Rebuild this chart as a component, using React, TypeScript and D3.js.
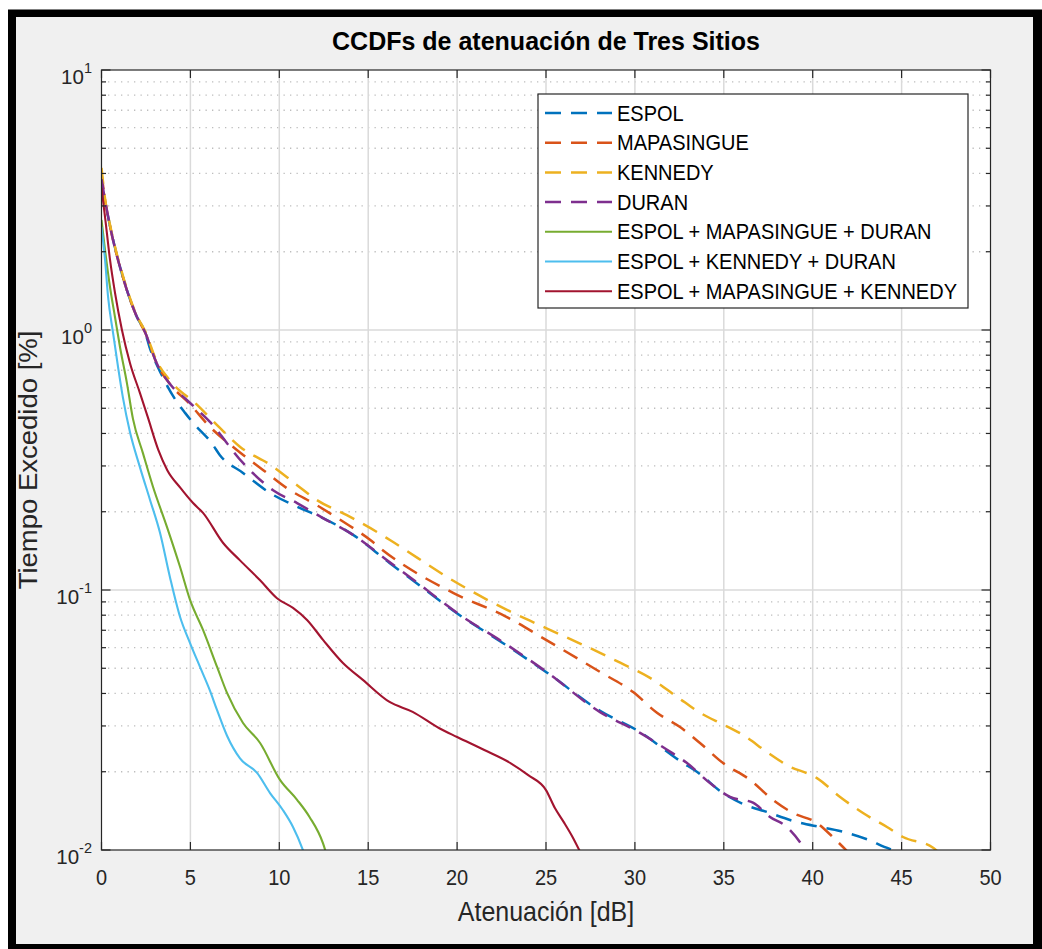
import React from 'react';
import * as d3 from 'd3';

const W = 1042;
const H = 949;
const PL = 101.5, PR = 990.5, PT = 70, PB = 850;

const xTicks = [0, 5, 10, 15, 20, 25, 30, 35, 40, 45, 50];
const yExponents = [-2, -1, 0, 1];

// ESPOL
const espolX = [0, 0.2, 0.5, 1.2, 2.0, 2.45, 2.7, 3.3, 4.1, 4.7, 5.16, 6.2, 6.66, 7.96, 9.48, 11.0, 12.46, 14.15, 16.2, 17.5, 20.3, 22.5, 25, 28.04, 30.29, 32.54, 33.66, 34.79, 36.08, 37.43, 38.89, 40.41, 41.53, 43.05, 44.34, 45.02];
const espolY = [3.5, 3.1, 2.47, 1.6, 1.12, 0.98, 0.86, 0.69, 0.547, 0.48, 0.439, 0.367, 0.33, 0.282, 0.236, 0.209, 0.189, 0.163, 0.127, 0.109, 0.0787, 0.063, 0.0484, 0.0343, 0.0284, 0.022, 0.0196, 0.01686, 0.01503, 0.014, 0.01294, 0.01226, 0.01183, 0.011, 0.0101, 0.0099];

// MAPASINGUE
const mapasingueX = [0, 0.2, 0.5, 1.2, 2.0, 2.45, 3.1, 3.85, 4.96, 6.1, 7.63, 9.1, 10.4, 12.1, 13.6, 15.1, 15.8, 19.8, 22.8, 25, 28.04, 29.9, 31.24, 32.54, 33.66, 34.96, 36.48, 37.77, 38.9, 40.24, 41.14, 41.93];
const mapasingueY = [4.0, 3.16, 2.47, 1.6, 1.12, 0.98, 0.746, 0.62, 0.52, 0.424, 0.345, 0.289, 0.247, 0.212, 0.183, 0.156, 0.1426, 0.0973, 0.0787, 0.0643, 0.0484, 0.0405, 0.0337, 0.0297, 0.0258, 0.0216, 0.0186, 0.01557, 0.01387, 0.0127, 0.0112, 0.0099];

// KENNEDY
const kennedyX = [0, 0.2, 0.5, 1.2, 2.0, 2.45, 3.1, 3.85, 5.38, 6.66, 7.8, 9.5, 11.0, 12.1, 13.8, 15.5, 16.2, 20, 23.15, 25, 28.04, 29.2, 30.85, 32.4, 33.67, 35.0, 36.08, 37.43, 38.55, 40.24, 41.54, 42.83, 44.18, 45.08, 46.77, 47.0];
const kennedyY = [4.2, 3.2, 2.5, 1.62, 1.13, 0.99, 0.76, 0.64, 0.515, 0.42, 0.355, 0.303, 0.253, 0.222, 0.194, 0.167, 0.156, 0.1064, 0.0816, 0.0714, 0.0573, 0.0524, 0.0459, 0.0387, 0.0337, 0.0303, 0.0277, 0.0238, 0.0212, 0.0189, 0.016, 0.01387, 0.01226, 0.01122, 0.0102, 0.0099];

// DURAN
const duranX = [0, 0.2, 0.5, 1.2, 2.0, 2.45, 3.1, 3.85, 4.8, 6.1, 7.96, 9.65, 11.0, 12.46, 14.15, 16.2, 17.5, 20.3, 22.5, 25, 28.04, 30.29, 31.81, 32.93, 34.22, 35.35, 36.64, 37.6, 38.55, 39.45, 39.6];
const duranY = [3.8, 3.16, 2.47, 1.6, 1.12, 0.98, 0.746, 0.62, 0.538, 0.443, 0.308, 0.242, 0.216, 0.189, 0.163, 0.128, 0.11, 0.079, 0.0635, 0.0486, 0.0339, 0.0282, 0.0243, 0.0216, 0.0181, 0.016, 0.0152, 0.0134, 0.01226, 0.0103, 0.0099];

// ESPOL + MAPASINGUE + DURAN
const emdX = [0, 0.2, 0.48, 0.76, 1.04, 1.43, 1.77, 2.33, 2.9, 3.68, 4.42, 4.98, 5.71, 6.5, 7.06, 7.96, 8.92, 10.04, 11.0, 11.7, 12.46, 12.6];
const emdY = [2.65, 2.03, 1.46, 1.12, 0.86, 0.625, 0.455, 0.336, 0.249, 0.175, 0.1226, 0.0916, 0.0702, 0.0506, 0.0402, 0.0308, 0.0258, 0.0186, 0.0156, 0.0134, 0.0106, 0.0099];

// ESPOL + KENNEDY + DURAN
const ekdX = [0, 0.2, 0.37, 0.65, 0.93, 1.2, 1.6, 2.16, 2.73, 3.29, 3.85, 4.42, 4.98, 5.54, 6.1, 6.5, 7.06, 7.79, 8.75, 9.48, 10.2, 10.77, 11.28, 11.35];
const ekdY = [2.49, 1.86, 1.34, 0.974, 0.721, 0.552, 0.405, 0.297, 0.222, 0.166, 0.112, 0.0787, 0.0625, 0.0506, 0.041, 0.0345, 0.0275, 0.0225, 0.0198, 0.01656, 0.01425, 0.01226, 0.0102, 0.0099];

// ESPOL + MAPASINGUE + KENNEDY
const emkX = [0, 0.2, 0.48, 0.76, 1.15, 1.6, 2.16, 2.6, 3.2, 3.7, 4.44, 5.15, 5.71, 6.83, 7.79, 8.92, 9.87, 10.77, 11.56, 12.46, 13.58, 14.7, 16.2, 17.5, 19, 20, 21.5, 23, 24, 25, 25.5, 26, 26.5, 26.9];
const emkY = [3.52, 2.72, 1.86, 1.39, 1.0, 0.747, 0.573, 0.463, 0.345, 0.289, 0.247, 0.216, 0.198, 0.152, 0.13, 0.109, 0.093, 0.0853, 0.0767, 0.0643, 0.0524, 0.0451, 0.0371, 0.034, 0.0294, 0.0272, 0.0243, 0.0216, 0.0194, 0.017, 0.0145, 0.0128, 0.0112, 0.0099];

const seriesNames = ['ESPOL', 'MAPASINGUE', 'KENNEDY', 'DURAN', 'ESPOL + MAPASINGUE + DURAN', 'ESPOL + KENNEDY + DURAN', 'ESPOL + MAPASINGUE + KENNEDY'];
const seriesColors = ['#0072BD', '#D95319', '#EDB120', '#7E2F8E', '#77AC30', '#4DBEEE', '#A2142F'];
const seriesDashed = [true, true, true, true, false, false, false];
const seriesXs = [espolX, mapasingueX, kennedyX, duranX, emdX, ekdX, emkX];
const seriesYs = [espolY, mapasingueY, kennedyY, duranY, emdY, ekdY, emkY];

const FONT = 'Arial, "Liberation Sans", Helvetica, sans-serif';
const AXC = '#262626';

export default function App() {
  const x = d3.scaleLinear().domain([0, 50]).range([PL, PR]);
  const y = d3.scaleLog().domain([0.01, 10]).range([PB, PT]);
  const line = d3
    .line<[number, number]>()
    .x((d) => x(d[0]))
    .y((d) => y(d[1]))
    .curve(d3.curveMonotoneX);

  const minor: number[] = [];
  for (let e = -2; e < 1; e++) for (let k = 2; k <= 9; k++) minor.push(k * Math.pow(10, e));

  const legendX = 538, legendY = 94, legendW = 430, legendH = 214;
  const rowH = 29.7;

  return (
    <svg width={W} height={H} style={{ position: 'absolute', left: 0, top: 0, display: 'block' }} fontFamily={FONT}>
      <defs>
        <clipPath id="plotclip">
          <rect x={PL} y={PT} width={PR - PL} height={PB - PT} />
        </clipPath>
      </defs>
      <rect x={0} y={0} width={W} height={H} fill="#ffffff" />
      <rect x={8} y={9.5} width={W - 8} height={H - 9.5} fill="#000000" />
      <rect x={16} y={17} width={1033 - 16} height={944 - 17} fill="#f0f0f0" />

      <rect x={PL} y={PT} width={PR - PL} height={PB - PT} fill="#ffffff" />

      {/* minor grid */}
      {minor.map((v, i) => (
        <line key={'mg' + i} x1={PL} x2={PR} y1={y(v)} y2={y(v)} stroke="#bdbdbd" strokeWidth={1.3} strokeDasharray="1.3,5.2" />
      ))}
      {/* major grid */}
      {xTicks.filter((t) => t > 0 && t < 50).map((t) => (
        <line key={'gx' + t} x1={x(t)} x2={x(t)} y1={PT} y2={PB} stroke="#dadada" strokeWidth={1.5} />
      ))}
      {yExponents.filter((e) => e > -2 && e < 1).map((e) => (
        <line key={'gy' + e} x1={PL} x2={PR} y1={y(Math.pow(10, e))} y2={y(Math.pow(10, e))} stroke="#dadada" strokeWidth={1.5} />
      ))}

      {/* series */}
      <g clipPath="url(#plotclip)">
        {seriesNames.map((name, i) => {
          const pts: [number, number][] = seriesXs[i].map((xv, j) => [xv, seriesYs[i][j]]);
          return (
            <path
              key={name}
              d={line(pts) || ''}
              fill="none"
              stroke={seriesColors[i]}
              strokeWidth={seriesDashed[i] ? 2.5 : 2.1}
              strokeDasharray={seriesDashed[i] ? '16,10' : undefined}
              strokeLinejoin="round"
            />
          );
        })}
      </g>

      {/* ticks */}
      {xTicks.map((t) => (
        <g key={'xt' + t}>
          <line x1={x(t)} x2={x(t)} y1={PB} y2={PB - 8} stroke={AXC} strokeWidth={1.2} />
          <line x1={x(t)} x2={x(t)} y1={PT} y2={PT + 8} stroke={AXC} strokeWidth={1.2} />
          <text transform={`translate(${x(t)},885) scale(1,1.1)`} textAnchor="middle" fontSize={20} fill={AXC}>{t}</text>
        </g>
      ))}
      {minor.map((v, i) => (
        <g key={'ymt' + i}>
          <line x1={PL} x2={PL + 4.5} y1={y(v)} y2={y(v)} stroke={AXC} strokeWidth={1.2} />
          <line x1={PR} x2={PR - 4.5} y1={y(v)} y2={y(v)} stroke={AXC} strokeWidth={1.2} />
        </g>
      ))}
      {yExponents.map((e) => {
        const yy = y(Math.pow(10, e));
        return (
          <g key={'yt' + e}>
            <line x1={PL} x2={PL + 9} y1={yy} y2={yy} stroke={AXC} strokeWidth={1.2} />
            <line x1={PR} x2={PR - 9} y1={yy} y2={yy} stroke={AXC} strokeWidth={1.2} />
            <text x={92} y={yy + 14} textAnchor="end" fontSize={20.5} fill={AXC}>
              <tspan>10</tspan>
              <tspan dy={-11} fontSize={14.5}>{String(e)}</tspan>
            </text>
          </g>
        );
      })}

      {/* axes box */}
      <rect x={PL} y={PT} width={PR - PL} height={PB - PT} fill="none" stroke={AXC} strokeWidth={1.2} />

      {/* title and labels */}
      <text transform="translate(546,50)" textAnchor="middle" fontSize={25} fontWeight="bold" fill="#000">CCDFs de atenuación de Tres Sitios</text>
      <text transform="translate(546,921) scale(1,1.1)" textAnchor="middle" fontSize={25} fill={AXC}>Atenuación [dB]</text>
      <text transform="translate(37,460) scale(1,1.1) rotate(-90)" textAnchor="middle" fontSize={25} fill={AXC}>Tiempo Excedido [%]</text>

      {/* legend */}
      <rect x={legendX} y={legendY} width={legendW} height={legendH} fill="#ffffff" stroke={AXC} strokeWidth={1.2} />
      {seriesNames.map((name, i) => {
        const ry = 113 + i * rowH;
        return (
          <g key={'lg' + i}>
            <line x1={545} x2={612} y1={ry} y2={ry} stroke={seriesColors[i]} strokeWidth={seriesDashed[i] ? 2.5 : 2.1} strokeDasharray={seriesDashed[i] ? '16,10' : undefined} />
            <text transform={`translate(617,${ry + 7.5}) scale(1,1.07)`} fontSize={20} fill="#000">{name}</text>
          </g>
        );
      })}
    </svg>
  );
}
